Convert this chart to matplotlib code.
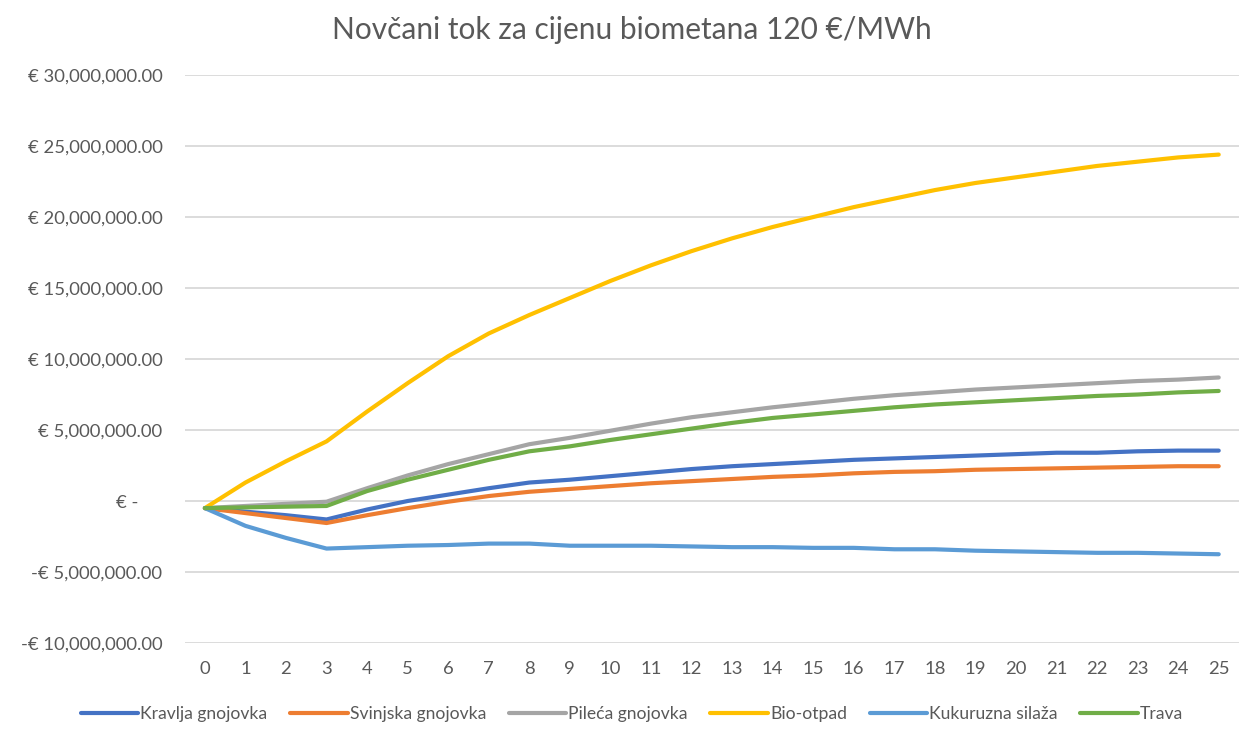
import numpy as np
import matplotlib.pyplot as plt
from matplotlib.ticker import FuncFormatter

plt.rcParams['font.family'] = ['Lato', 'DejaVu Sans']

# ==== podaci (u milijunima €) ====
godine = list(range(26))

kravlja = [-0.5, -0.75, -1.0, -1.3, -0.6, 0.0, 0.45, 0.9, 1.3, 1.5, 1.75, 2.0, 2.25,
           2.45, 2.6, 2.75, 2.9, 3.0, 3.1, 3.2, 3.3, 3.4, 3.4, 3.5, 3.55, 3.55]
svinjska = [-0.5, -0.85, -1.2, -1.55, -1.0, -0.5, -0.05, 0.35, 0.65, 0.85, 1.05, 1.25, 1.4,
            1.55, 1.7, 1.8, 1.95, 2.05, 2.1, 2.2, 2.25, 2.3, 2.35, 2.4, 2.45, 2.45]
pileca = [-0.5, -0.35, -0.2, -0.05, 0.9, 1.8, 2.6, 3.3, 4.0, 4.45, 4.95, 5.45, 5.9,
          6.25, 6.6, 6.9, 7.2, 7.45, 7.65, 7.85, 8.0, 8.15, 8.3, 8.45, 8.55, 8.7]
bio_otpad = [-0.5, 1.3, 2.8, 4.2, 6.3, 8.3, 10.2, 11.8, 13.1, 14.3, 15.5, 16.6, 17.6,
             18.5, 19.3, 20.0, 20.7, 21.3, 21.9, 22.4, 22.8, 23.2, 23.6, 23.9, 24.2, 24.4]
kukuruzna = [-0.5, -1.75, -2.6, -3.35, -3.25, -3.15, -3.1, -3.0, -3.0, -3.15, -3.15, -3.15, -3.2,
             -3.25, -3.25, -3.3, -3.3, -3.4, -3.4, -3.5, -3.55, -3.6, -3.65, -3.65, -3.7, -3.75]
trava = [-0.5, -0.45, -0.4, -0.35, 0.7, 1.5, 2.2, 2.9, 3.5, 3.85, 4.3, 4.7, 5.1,
         5.5, 5.85, 6.1, 6.35, 6.6, 6.8, 6.95, 7.1, 7.25, 7.4, 7.5, 7.65, 7.75]

nazivi = ["Kravlja gnojovka", "Svinjska gnojovka", "Pileća gnojovka",
          "Bio-otpad", "Kukuruzna silaža", "Trava"]
serije = [kravlja, svinjska, pileca, bio_otpad, kukuruzna, trava]
boje = ["#4472C4", "#ED7D31", "#A5A5A5", "#FFC000", "#5B9BD5", "#70AD47"]

# ==== graf ====
fig = plt.figure(figsize=(12.39, 7.29), dpi=100)
ax = fig.add_axes([0.149, 0.118, 0.851, 0.779])

for s, n, c in zip(serije, nazivi, boje):
    ax.plot(godine, np.array(s) * 1e6, lw=3, color=c, label=n, solid_capstyle='round')

def euro(v, pos):
    if abs(v) < 1:
        return "€ -     "
    if v < 0:
        return "-€ {:,.2f}".format(-v)
    return "€ {:,.2f}".format(v)

ax.set_ylim(-10e6, 30e6)
ax.set_yticks(np.arange(-10e6, 30e6 + 1, 5e6))
ax.yaxis.set_major_formatter(FuncFormatter(euro))
ax.set_xlim(-0.5, 25.5)
ax.set_xticks(godine)
ax.grid(axis='y', color='#D9D9D9', lw=1.3)
ax.set_axisbelow(True)
for sp in ax.spines.values():
    sp.set_visible(False)
ax.tick_params(length=0, labelsize=13.3, colors='#595959')
ax.tick_params(axis='y', pad=16)
ax.tick_params(axis='x', pad=13)

fig.suptitle("Novčani tok za cijenu biometana 120 €/MWh", x=0.51, y=0.978, fontsize=21.5, color='#595959')
fig.legend(loc='lower center', bbox_to_anchor=(0.51, -0.012), ncol=6, frameon=False,
           fontsize=12.6, handlelength=3.3, handletextpad=0.1, columnspacing=1.3,
           labelcolor='#595959')

fig.savefig("out.png", dpi=100)
